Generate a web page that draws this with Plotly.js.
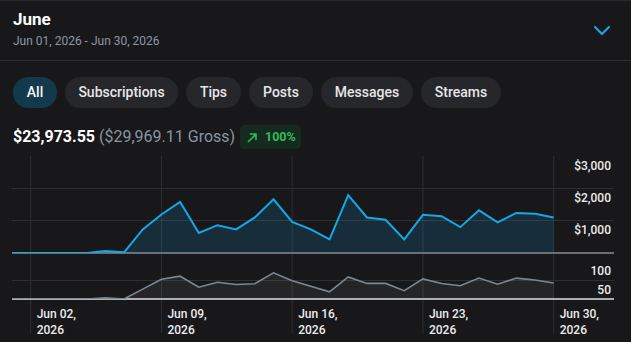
<!DOCTYPE html>
<html>
<head>
<meta charset="utf-8">
<script src="https://cdn.plot.ly/plotly-3.0.1.min.js"></script>
<style>
  html, body { margin: 0; padding: 0; background: #18181b; }
  body { width: 631px; height: 342px; position: relative; overflow: hidden;
         font-family: Roboto, "Noto Sans", sans-serif; color: #fff; }
  .topline { position: absolute; left: 0; top: 0; width: 631px; height: 1px; background: #2a2b2f; }
  .sep { position: absolute; left: 0; top: 60px; width: 631px; height: 1px; background: #2e2f33; }
  .title { position: absolute; left: 13px; top: 9px; font-size: 17px; font-weight: 700; line-height: 20px; }
  .range { position: absolute; left: 13px; top: 33px; font-size: 12px; color: #8d96a6; line-height: 16px; }
  .chev { position: absolute; left: 593px; top: 24px; }
  .pill { position: absolute; top: 77px; height: 31px; border-radius: 16px; background: #26272b;
          color: #e6e6e8; font-size: 14px; font-weight: 500; line-height: 31px; text-align: center; }
  .pill.on { background: #133a4c; color: #f2f6f8; }
  .totals { position: absolute; left: 13px; top: 127px; font-size: 16px; line-height: 20px; white-space: nowrap; }
  .net { font-weight: 700; color: #fff; }
  .gross { color: #8b94a3; }
  .badge { position: absolute; left: 240px; top: 125px; width: 61px; height: 24px; border-radius: 5px;
           background: #162b1f; color: #2fbd5b; font-size: 12.5px; font-weight: 700; line-height: 24px; }
  .badge svg { position: absolute; left: 7px; top: 7px; }
  .badge span { position: absolute; left: 25px; top: 0; }
  #chart { position: absolute; left: 0; top: 150px; width: 631px; height: 192px; }
</style>
</head>
<body>
<div class="topline"></div>
<div class="title">June</div>
<div class="range">Jun 01, 2026 - Jun 30, 2026</div>
<svg class="chev" width="18" height="14" viewBox="0 0 18 14">
  <polyline points="2,3 9,10 16,3" fill="none" stroke="#1ea2e6" stroke-width="2.2" stroke-linecap="round" stroke-linejoin="round"/>
</svg>
<div class="sep"></div>

<div class="pill on" style="left:13px;width:44px;">All</div>
<div class="pill" style="left:65px;width:113px;">Subscriptions</div>
<div class="pill" style="left:186px;width:55px;">Tips</div>
<div class="pill" style="left:249px;width:64px;">Posts</div>
<div class="pill" style="left:321px;width:92px;">Messages</div>
<div class="pill" style="left:421px;width:80px;">Streams</div>

<div class="totals"><span class="net">$23,973.55</span> <span class="gross">($29,969.11 Gross)</span></div>
<div class="badge">
  <svg width="11" height="11" viewBox="0 0 11 11">
    <path d="M1.5 9.5 L9 2 M3.5 2 H9 V7.5" fill="none" stroke="#2fbd5b" stroke-width="1.6" stroke-linecap="round" stroke-linejoin="round"/>
  </svg>
  <span>100%</span>
</div>

<div id="chart"></div>

<script>
// Daily figures for June 2026
const days = [
  '2026-06-01','2026-06-02','2026-06-03','2026-06-04','2026-06-05',
  '2026-06-06','2026-06-07','2026-06-08','2026-06-09','2026-06-10',
  '2026-06-11','2026-06-12','2026-06-13','2026-06-14','2026-06-15',
  '2026-06-16','2026-06-17','2026-06-18','2026-06-19','2026-06-20',
  '2026-06-21','2026-06-22','2026-06-23','2026-06-24','2026-06-25',
  '2026-06-26','2026-06-27','2026-06-28','2026-06-29','2026-06-30'
];
// Net earnings per day (USD)
const earnings = [
  0, 0, 0, 0, 0,
  60, 20, 730, 1190, 1580,
  620, 860, 730, 1100, 1660,
  960, 730, 420, 1790, 1100,
  1030, 420, 1180, 1140, 800,
  1320, 950, 1240, 1210, 1100
];
// Transactions per day
const counts = [
  0, 0, 0, 0, 0,
  3, 0, 26, 52, 60,
  31, 44, 38, 40, 69,
  48, 33, 19, 58, 41,
  41, 22, 53, 41, 35,
  55, 39, 55, 50, 42
];
// Axis ticks
const tickDates = ['2026-06-02','2026-06-09','2026-06-16','2026-06-23','2026-06-30'];
const tickLabels = ['Jun 02,<br>2026','Jun 09,<br>2026','Jun 16,<br>2026','Jun 23,<br>2026','Jun 30,<br>2026'];
const earningsTicks = [1000, 2000, 3000];
const earningsLabels = ['$1,000', '$2,000', '$3,000'];
const countTicks = [50, 100];
const countLabels = ['50', '100'];

const gridColor = '#2e2f33';
const tickFont = { family: 'Roboto, sans-serif', size: 12, color: '#ececee', weight: 500 };

const traces = [
  {
    x: days, y: earnings, xaxis: 'x', yaxis: 'y',
    type: 'scatter', mode: 'lines', fill: 'tozeroy',
    line: { color: '#14a8e8', width: 2 },
    fillcolor: 'rgba(20,168,232,0.15)',
    hoverinfo: 'skip'
  },
  {
    x: days, y: counts, xaxis: 'x', yaxis: 'y2',
    type: 'scatter', mode: 'lines', fill: 'tozeroy',
    line: { color: '#7b8794', width: 1.6 },
    fillcolor: 'rgba(255,255,255,0.06)',
    hoverinfo: 'skip'
  }
];

const topDomain = [0.3217, 1];
const bottomDomain = [0, 0.2657];

// Vertical guides run through both panels and down past the date labels
const shapes = tickDates.map(d => ({
  type: 'line', layer: 'below', xref: 'x', yref: 'paper',
  x0: d, x1: d, y0: -0.238, y1: 1,
  line: { color: gridColor, width: 1 }
}));
// Baselines along the bottom edge of each panel
shapes.push({ type: 'line', layer: 'below', xref: 'paper', yref: 'paper',
  x0: 0, x1: 1, y0: topDomain[0], y1: topDomain[0], line: { color: '#6a6e74', width: 2 } });
shapes.push({ type: 'line', layer: 'below', xref: 'paper', yref: 'paper',
  x0: 0, x1: 1, y0: bottomDomain[0], y1: bottomDomain[0], line: { color: '#a9aeb5', width: 2 } });

const layout = {
  width: 631, height: 192,
  margin: { l: 12, r: 17, t: 6, b: 43, pad: 0 },
  paper_bgcolor: '#18181b', plot_bgcolor: '#18181b',
  showlegend: false,
  xaxis: {
    type: 'date', anchor: 'y2',
    range: ['2026-06-01 00:00', '2026-07-03 05:30'],
    showgrid: false, zeroline: false, showline: false,
    tickmode: 'array', tickvals: tickDates, ticktext: tickLabels,
    ticks: '', ticklabelposition: 'outside right',
    ticklabelshift: 6, ticklabelstandoff: 6,
    tickfont: tickFont
  },
  yaxis: {
    domain: topDomain, anchor: 'x', side: 'right',
    range: [0, 3000],
    showgrid: true, gridcolor: gridColor, gridwidth: 1,
    zeroline: false, showline: false,
    tickmode: 'array', tickvals: earningsTicks, ticktext: earningsLabels,
    ticks: '', ticklabelposition: 'inside bottom',
    ticklabelshift: 1,
    tickfont: tickFont
  },
  yaxis2: {
    domain: bottomDomain, anchor: 'x', side: 'right',
    range: [0, 100],
    showgrid: true, gridcolor: gridColor, gridwidth: 1,
    zeroline: false, showline: false,
    tickmode: 'array', tickvals: countTicks, ticktext: countLabels,
    ticks: '', ticklabelposition: 'inside bottom',
    ticklabelshift: 1,
    tickfont: tickFont
  },
  shapes: shapes
};

Plotly.newPlot('chart', traces, layout, { staticPlot: true, displayModeBar: false });
</script>
</body>
</html>
